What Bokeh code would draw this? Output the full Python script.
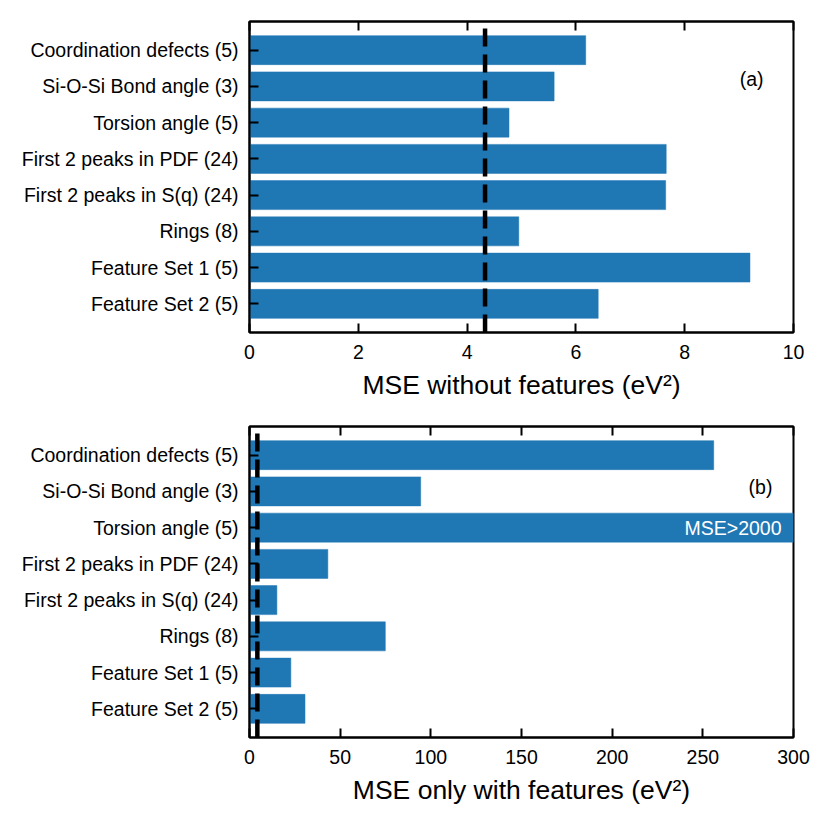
from bokeh.plotting import figure
from bokeh.layouts import column
from bokeh.models import Range1d, FixedTicker, LinearAxis, ColumnDataSource
from bokeh.core.properties import value
from bokeh.embed import file_html
from bokeh.resources import INLINE

# ---- data (top-to-bottom order as in the picture) ----
categories = [
    "Coordination defects (5)",
    "Si-O-Si Bond angle (3)",
    "Torsion angle (5)",
    "First 2 peaks in PDF (24)",
    "First 2 peaks in S(q) (24)",
    "Rings (8)",
    "Feature Set 1 (5)",
    "Feature Set 2 (5)",
]
mse_without = [6.18, 5.60, 4.77, 7.66, 7.65, 4.95, 9.20, 6.41]
mse_only = [256.0, 94.4, 2000.0, 43.2, 15.1, 74.9, 22.8, 30.6]
baseline_mse = 4.33
xticks_a = [0, 2, 4, 6, 8, 10]
xticks_b = [0, 50, 100, 150, 200, 250, 300]

FONT = "Liberation Sans"
BLUE = "#1f77b4"
n = len(categories)
ypos = list(range(n))[::-1]
ylabels = {y: c for y, c in zip(ypos, categories)}


def make_panel(vals, xmax, xticks, xlabel, border_top, border_bottom):
    p = figure(
        frame_width=544, frame_height=311,
        x_range=Range1d(0, xmax), y_range=Range1d(-0.79, n - 1 + 0.79),
        output_backend="svg", toolbar_location=None,
        min_border_left=249, min_border_right=26,
        min_border_top=border_top, min_border_bottom=border_bottom,
    )
    p.xgrid.visible = False
    p.ygrid.visible = False
    p.outline_line_color = "black"
    p.outline_line_width = 2
    p.outline_line_alpha = 1.0
    p.background_fill_color = "white"
    p.border_fill_color = "white"

    src = ColumnDataSource(dict(y=ypos, v=vals))
    p.hbar(y="y", right="v", left=0, height=0.8, source=src,
           fill_color=BLUE, line_color=BLUE, line_width=0.5)

    p.segment(x0=[baseline_mse], y0=[-0.79], x1=[baseline_mse], y1=[n - 1 + 0.79],
              line_color="black", line_width=4.5, line_dash="18 8")

    # axes styling
    xa = p.xaxis[0]
    xa.ticker = FixedTicker(ticks=xticks)
    xa.axis_label = xlabel
    xa.axis_label_text_font = FONT
    xa.axis_label_text_font_size = "26.5px"
    xa.axis_label_text_font_style = "normal"
    xa.axis_label_text_color = "black"
    xa.axis_label_standoff = 8
    xa.major_label_text_font = FONT
    xa.major_label_text_font_size = "19.5px"
    xa.major_label_text_color = "black"
    xa.major_label_standoff = 12

    ya = p.yaxis[0]
    ya.ticker = FixedTicker(ticks=ypos)
    ya.major_label_overrides = ylabels
    ya.major_label_text_font = FONT
    ya.major_label_text_font_size = "19.5px"
    ya.major_label_text_color = "black"
    ya.major_label_standoff = 11

    for ax in (xa, ya):
        ax.axis_line_color = "black"
        ax.axis_line_width = 2
        ax.major_tick_in = 9
        ax.major_tick_out = 0
        ax.major_tick_line_width = 2
        ax.major_tick_line_color = "black"
        ax.minor_tick_line_color = None

    top = LinearAxis(ticker=FixedTicker(ticks=xticks))
    top.major_label_text_font_size = "1px"
    top.major_label_text_color = None
    top.major_label_standoff = 0
    top.axis_line_color = "black"
    top.axis_line_width = 2
    top.major_tick_in = 9
    top.major_tick_out = 0
    top.major_tick_line_width = 2
    top.major_tick_line_color = "black"
    top.minor_tick_line_color = None
    p.add_layout(top, "above")
    return p


p1 = make_panel(mse_without, 10, xticks_a, "MSE without features (eV²)", 21, 80)
p1.text(x=[9.23], y=[6.2], text=["(a)"], text_font=value(FONT),
        text_font_size="19.5px", text_align="center", text_baseline="middle",
        text_color="black")

p2 = make_panel(mse_only, 300, xticks_b, "MSE only with features (eV²)", 14, 78)
p2.text(x=[281.8], y=[6.11], text=["(b)"], text_font=value(FONT),
        text_font_size="19.5px", text_align="center", text_baseline="middle",
        text_color="black")
p2.text(x=[293.4], y=[ypos[2]], text=["MSE>2000"], text_font=value(FONT),
        text_font_size="19.5px", text_align="right", text_baseline="middle",
        text_color="white")

layout = column(p1, p2)
open("out.html", "w").write(file_html(layout, INLINE))
